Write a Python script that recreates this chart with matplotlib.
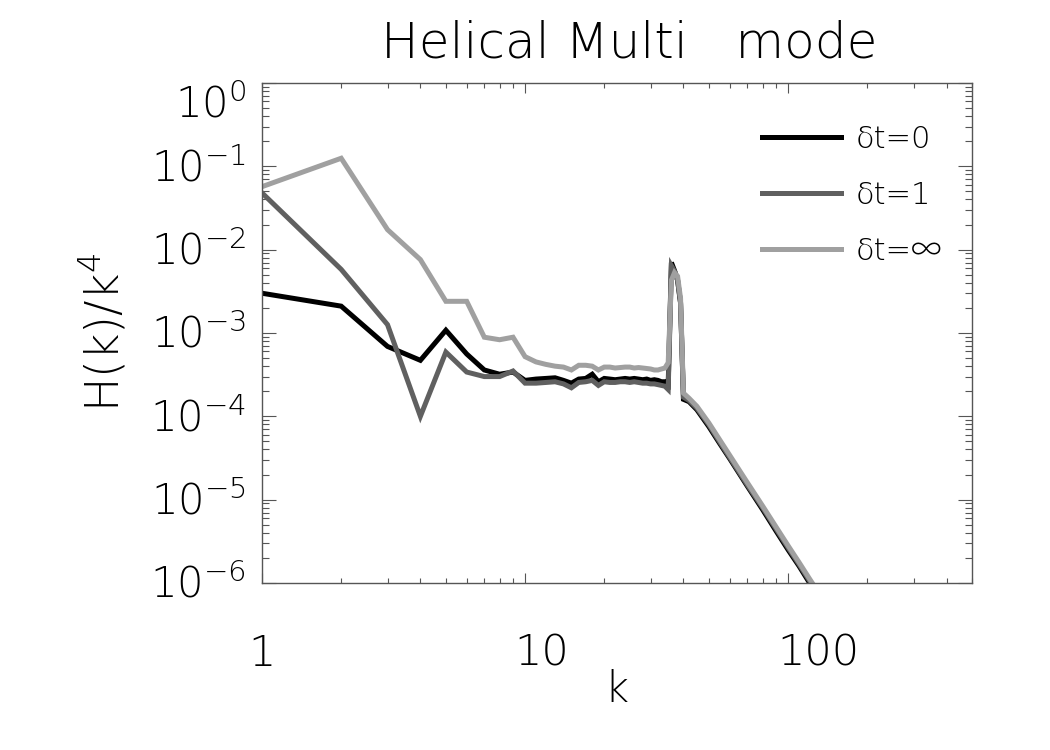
import matplotlib
matplotlib.use("Agg")
import matplotlib.pyplot as plt
from matplotlib.transforms import blended_transform_factory, ScaledTranslation

FAM = ['DejaVu Sans', 'Noto Sans CJK JP', 'Liberation Sans']
plt.rcParams['font.family'] = FAM
plt.rcParams['font.weight'] = 200
plt.rcParams['mathtext.fontset'] = 'custom'
plt.rcParams['mathtext.rm'] = 'DejaVu Sans:weight=200'
plt.rcParams['mathtext.it'] = 'DejaVu Sans:weight=200'

# ---------------- data ----------------
k = [1, 2, 3, 4, 5, 6, 7, 8, 9, 10,
     11, 12, 13, 14, 15, 16, 17, 18, 19, 20,
     21, 22, 23, 24, 25, 26, 27, 28, 29, 30,
     31, 32, 33, 34, 35, 36, 37, 38, 39, 40,
     42, 45, 50, 55, 60, 70, 80, 90, 100, 110, 120, 130]

h_dt0 = [3.0e-3, 2.1e-3, 6.9e-4, 4.7e-4, 1.08e-3, 5.6e-4, 3.6e-4, 3.2e-4, 3.4e-4, 2.7e-4,
         2.8e-4, 2.85e-4, 2.9e-4, 2.7e-4, 2.5e-4, 2.8e-4, 2.85e-4, 3.2e-4, 2.6e-4, 2.85e-4,
         2.8e-4, 2.75e-4, 2.8e-4, 2.85e-4, 2.8e-4, 2.85e-4, 2.8e-4, 2.75e-4, 2.8e-4, 2.7e-4,
         2.75e-4, 2.7e-4, 2.6e-4, 2.6e-4, 2.4e-4, 7.0e-3, 5.6e-3, 4.3e-3, 2.3e-3, 1.6e-4,
         1.5e-4, 1.2e-4, 7.5e-5, 4.7e-5, 3.1e-5, 1.45e-5, 7.6e-6, 4.2e-6, 2.5e-6, 1.6e-6, 1.03e-6, 7.0e-7]

h_dt1 = [4.8e-2, 5.8e-3, 1.26e-3, 1.0e-4, 5.9e-4, 3.4e-4, 3.0e-4, 3.0e-4, 3.5e-4, 2.5e-4,
         2.5e-4, 2.55e-4, 2.6e-4, 2.45e-4, 2.2e-4, 2.55e-4, 2.6e-4, 2.7e-4, 2.35e-4, 2.6e-4,
         2.55e-4, 2.55e-4, 2.6e-4, 2.6e-4, 2.55e-4, 2.6e-4, 2.55e-4, 2.5e-4, 2.5e-4, 2.45e-4,
         2.45e-4, 2.4e-4, 2.35e-4, 2.3e-4, 2.1e-4, 6.4e-3, 5.5e-3, 4.3e-3, 2.3e-3, 1.7e-4,
         1.55e-4, 1.25e-4, 7.9e-5, 4.9e-5, 3.2e-5, 1.5e-5, 8.0e-6, 4.45e-6, 2.65e-6, 1.68e-6, 1.09e-6, 7.4e-7]

h_dtinf = [5.7e-2, 1.25e-1, 1.74e-2, 7.6e-3, 2.4e-3, 2.4e-3, 8.9e-4, 8.3e-4, 8.9e-4, 5.2e-4,
           4.5e-4, 4.2e-4, 4.0e-4, 3.9e-4, 3.6e-4, 4.1e-4, 4.1e-4, 4.0e-4, 3.6e-4, 3.9e-4,
           3.9e-4, 3.8e-4, 3.85e-4, 3.9e-4, 3.9e-4, 3.8e-4, 3.85e-4, 3.8e-4, 3.75e-4, 3.7e-4,
           3.6e-4, 3.6e-4, 3.7e-4, 3.8e-4, 4.4e-4, 4.3e-3, 5.3e-3, 4.8e-3, 2.6e-3, 1.9e-4,
           1.65e-4, 1.32e-4, 8.3e-5, 5.2e-5, 3.4e-5, 1.6e-5, 8.4e-6, 4.7e-6, 2.8e-6, 1.77e-6, 1.15e-6, 7.8e-7]

labels = ['δt=0', 'δt=1', 'δt=∞']
colors = ['#000000', '#606060', '#a0a0a0']

xtick_vals = [1, 10, 100]
xtick_labels = ['1', '10', '100']
ytick_vals = [1e0, 1e-1, 1e-2, 1e-3, 1e-4, 1e-5, 1e-6]
ytick_labels = [r'$\mathregular{10^{0}}$', r'$\mathregular{10^{-1}}$', r'$\mathregular{10^{-2}}$',
                r'$\mathregular{10^{-3}}$', r'$\mathregular{10^{-4}}$', r'$\mathregular{10^{-5}}$',
                r'$\mathregular{10^{-6}}$']

# ---------------- figure ----------------
fig = plt.figure(figsize=(10.5, 7.5), dpi=100)
ax = fig.add_axes([262/1050, 1 - 583/750, (972-262)/1050, (583-83)/750])

for vals, lab, c in zip([h_dt0, h_dt1, h_dtinf], labels, colors):
    ax.plot(k, vals, color=c, lw=3.6, label=lab, solid_joinstyle='miter')

ax.set_xscale('log')
ax.set_yscale('log')
ax.set_xlim(1, 500)
ax.set_ylim(1e-6, 1)

axcol = '#555555'
for s in ax.spines.values():
    s.set_color(axcol)
    s.set_linewidth(1.0)

ax.tick_params(axis='both', which='both', direction='in', top=True, right=True,
               color=axcol, width=0.8, labelleft=False, labelbottom=False)
ax.tick_params(axis='x', which='major', length=7.2)
ax.tick_params(axis='x', which='minor', length=3.6)
ax.tick_params(axis='y', which='major', length=10)
ax.tick_params(axis='y', which='minor', length=5)
ax.set_xticks(xtick_vals)
ax.set_yticks(ytick_vals)

# tick labels as text
tfs = 30
xt = blended_transform_factory(ax.transData, fig.transFigure)
xoffs = [0, 17, 30]
for v, lab, dx in zip(xtick_vals, xtick_labels, xoffs):
    off = ScaledTranslation(dx / 100, 0, fig.dpi_scale_trans)
    ax.text(v, 1 - 666/750, lab, transform=xt + off, ha='center', va='baseline', fontsize=31)

yt = blended_transform_factory(fig.transFigure, ax.transData)
for i, (v, lab) in enumerate(zip(ytick_vals, ytick_labels)):
    dy = 15 + (19 if i == 0 else 0)
    off = ScaledTranslation(0, -dy / 100, fig.dpi_scale_trans)
    ax.text(246/1050, v, lab, transform=yt + off, ha='right', va='baseline', fontsize=tfs)

fig.text(629/1050, 1 - 57/750, 'Helical Multi   mode', ha='center', va='baseline', fontsize=36)
fig.text(616/1050, 1 - 702/750, 'k', ha='center', va='baseline', fontsize=30)
fig.text(103/1050, 1 - 332/750, r'H(k)/k$\mathregular{^{4}}$', ha='center', va='center',
         rotation=90, fontsize=33)

ax.legend(loc='upper left', bbox_to_anchor=(762/1050, 1 - 125/750), bbox_transform=fig.transFigure,
          frameon=False, borderpad=0, borderaxespad=0, handlelength=2.6, handletextpad=0.46,
          labelspacing=0.88, prop={'family': FAM, 'weight': 200, 'size': 22})

fig.savefig('out.png', dpi=100)
